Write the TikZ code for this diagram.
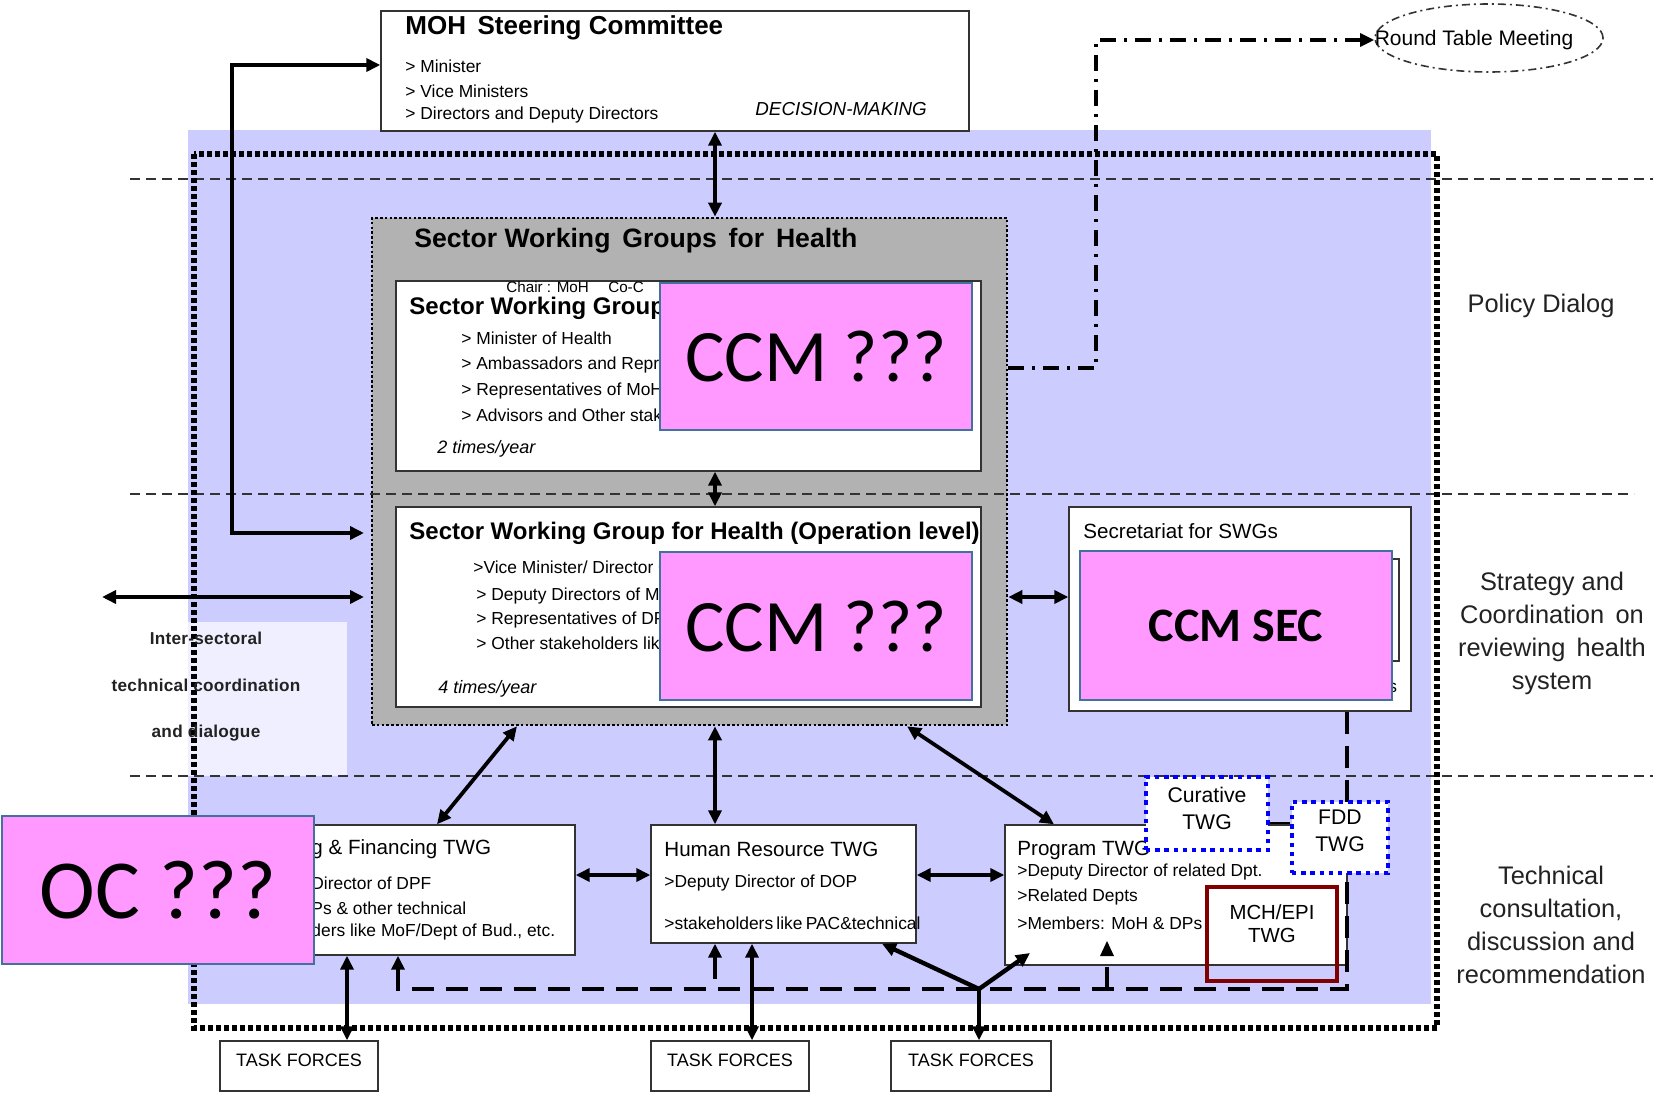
\documentclass[tikz,border=0pt]{standalone}
\usepackage{fontspec}
\setmainfont{Liberation Sans}
\newfontfamily\calf{Carlito}
\newfontfamily\spf[LetterSpace=1.5]{Liberation Sans}
\usetikzlibrary{arrows.meta,shapes.geometric}
\definecolor{lav}{HTML}{CCCCFF}
\definecolor{swggray}{HTML}{B2B2B2}
\definecolor{pinkf}{HTML}{FF99FF}
\definecolor{pinkb}{HTML}{41719C}
\definecolor{mchred}{HTML}{800000}
\definecolor{linegray}{HTML}{333333}
\definecolor{labgray}{HTML}{222222}
\begin{document}
\begin{tikzpicture}[x=0.5pt,y=-0.5pt,
  tri/.tip={Triangle[length=7pt,width=6.5pt]},
  box/.style={draw=linegray,line width=0.7pt,fill=white,inner sep=0,rectangle},
  graybox/.style={draw=black,line width=1.3pt,dash pattern=on 1.3pt off 1.1pt,fill=swggray,inner sep=0},
  pinkbox/.style={draw=pinkb,line width=1pt,fill=pinkf,inner sep=0},
  bluedot/.style={draw=blue,line width=2.2pt,dash pattern=on 2.2pt off 2.4pt,fill=white,inner sep=0},
  hdash/.style={draw=linegray,line width=0.7pt,dash pattern=on 5pt off 3pt},
  bigdot/.style={draw=black,line width=2.6pt,dash pattern=on 2.4pt off 1.6pt},
  fbdash/.style={draw=black,line width=2.2pt,dash pattern=on 11pt off 6pt},
  conn/.style={draw=black,line width=1.9pt,arrows={tri-tri}},
  onearr/.style={draw=black,line width=2.2pt,arrows={-tri}},
  ttl/.style={inner sep=0,anchor=west,font=\bfseries\fontsize{13}{15}\selectfont},
  ttlb/.style={inner sep=0,anchor=west,font=\bfseries\fontsize{12}{14}\selectfont},
  itm/.style={inner sep=0,anchor=west,font=\fontsize{8.7}{10}\selectfont},
  itl/.style={inner sep=0,anchor=west,font=\itshape\fontsize{9}{10}\selectfont},
  mid/.style={inner sep=0,anchor=west,font=\fontsize{10.3}{12}\selectfont},
  lab/.style={inner sep=0,align=center,text=labgray,font=\fontsize{12.7}{16.5}\selectfont},
  big/.style={font=\calf\fontsize{37}{40}\selectfont}
]
\useasboundingbox (0,0) rectangle (1653,1096);
\fill[white] (0,0) rectangle (1653,1096);
% background band
\fill[lav] (188,130) rectangle (1431,1004);
\fill[white,opacity=0.7] (65,622) rectangle (347,776);
% Sector working groups container
\node[graybox,minimum width=317.5pt,minimum height=253.5pt] (swgs) at (689.5,471.5) {};
% level separators
\draw[hdash] (130,179) -- (1653,179);
\draw[hdash] (130,494) -- (1634,494);
\draw[hdash] (130,776) -- (1653,776);
% thick dotted frame
\draw[bigdot] (194,154) rectangle (1437,1028);

% boxes
\node[box,minimum width=294pt,minimum height=60pt] (moh) at (675,71) {};
\node[box,minimum width=292.5pt,minimum height=95pt] (swg) at (688.5,376) {};
\node[box,minimum width=292.5pt,minimum height=100pt] (op) at (688.5,607) {};
\node[box,minimum width=171pt,minimum height=102pt] (sec) at (1240,609) {};
\draw[linegray,line width=0.6pt] (1085,559) rectangle (1399,661);
\node[box,minimum width=157.5pt,minimum height=65pt] (plan) at (417.5,890) {};
\node[box,minimum width=132.5pt,minimum height=59pt] (hr) at (783.5,884) {};
\node[box,minimum width=171pt,minimum height=70pt] (prog) at (1176,895) {};
\node[box,minimum width=79pt,minimum height=25pt] (tf1) at (299,1066) {};
\node[box,minimum width=79pt,minimum height=25pt] (tf2) at (730,1066) {};
\node[box,minimum width=80pt,minimum height=25pt] (tf3) at (971,1066) {};

% texts
\node[ttl] at (405,28) {MOH\, Steering Committee};
\node[itm] at (405,66) {> Minister};
\node[itm] at (405,91) {> Vice Ministers};
\node[itm] at (405,115) {> Directors and Deputy Directors};
\node[itl,font=\itshape\fontsize{9.4}{11}\selectfont] at (755,109) {DECISION-MAKING};

\node[ttl,font=\bfseries\fontsize{13.3}{15}\selectfont] at (414,241) {Sector Working\, Groups\, for\, Health};
\node[itm,font=\fontsize{7.6}{9}\selectfont] at (506,287) {Chair : MoH\quad\ Co-C};
\node[ttlb] at (409,308) {Sector Working Group};
\node[itm] at (461,338) {> Minister of Health};
\node[itm] at (461,365) {> Ambassadors and Represe};
\node[itm] at (461,391) {> Representatives of MoH D};
\node[itm] at (461,415) {> Advisors and Other stake};
\node[itl] at (437,449) {2 times/year};

\node[ttlb] at (409,533) {Sector Working Group for Health (Operation level)};
\node[itm] at (473,567) {>Vice Minister/ Director G};
\node[itm] at (476,596) {> Deputy Directors of MoH};
\node[itm] at (476,620) {> Representatives of DPs};
\node[itm] at (476,643) {> Other stakeholders like};
\node[itl] at (438,689) {4 times/year};

\node[mid] at (1083,531) {Secretariat for SWGs};
\node[itm] at (1388,688) {s};

\node[mid] at (311,849) {g \& Financing TWG};
\node[itm] at (311,883) {Director of DPF};
\node[itm] at (311,908) {Ps \& other technical};
\node[itm] at (311,932) {ders like MoF/Dept of Bud., etc.};

\node[mid] at (664,849) {Human Resource TWG};
\node[itm] at (664,883) {>Deputy Director of DOP};
\node[itm] at (664,923) {\makebox[119pt][s]{>stakeholders like PAC\&technical}};

\node[mid] at (1017,850) {Program TWG};
\node[itm] at (1017,872) {>Deputy Director of related Dpt.};
\node[itm] at (1017,897) {>Related Depts};
\node[itm] at (1017,923) {>Members: MoH \& DPs};

\foreach \n in {tf1,tf2,tf3}
  \node[inner sep=0,font=\fontsize{9}{10}\selectfont] at ([yshift=3pt]\n.center) {TASK FORCES};

\node[inner sep=0,align=center,text=labgray,font=\bfseries\spf\fontsize{8.6}{23.25}\selectfont] at (206,687)
  {Inter-sectoral\\technical coordination\\and dialogue};

\node[lab] at (1541,306) {Policy Dialog};
\node[lab] at (1552,633) {Strategy and\\Coordination\, on\\reviewing\, health\\system};
\node[lab] at (1551,925) {Technical\\consultation,\\discussion and\\recommendation};

% feedback dashed loop
\draw[fbdash,arrows={tri-}] (plan.south -| 398,0) -- (398,989) -- (1347,989) -- (sec.south -| 1347,0);
\draw[fbdash,arrows={tri-}] (hr.south -| 715,0) -- (715,989);
\draw[fbdash] (1107,989) -- (prog.south -| 1107,0);
\fill (1100,956) -- (1114,956) -- (1107,941) -- cycle;

% small TWGs
\node[bluedot,minimum width=61pt,minimum height=36.5pt] (cur) at (1207,813.5) {};
\node[bluedot,minimum width=48pt,minimum height=35.5pt] (fdd) at (1340,837.5) {};
\draw[black,line width=0.7pt] (cur.east |- 0,823) -- (fdd.west |- 0,823);
\node[inner sep=0,align=center,font=\fontsize{10.6}{13.5}\selectfont] at (1207,808) {Curative\\TWG};
\node[inner sep=0,align=center,font=\fontsize{10.6}{13.5}\selectfont] at (1340,831) {FDD\\TWG};
\node[draw=mchred,line width=2pt,inner sep=0,minimum width=65pt,minimum height=47pt] (mch) at (1272,934) {};
\node[inner sep=0,align=center,font=\fontsize{10.2}{11.5}\selectfont] at (1272,923.5) {MCH/EPI\\TWG};

% pink overlays
\node[pinkbox,big,minimum width=156pt,minimum height=73.5pt] (ccm1) at (816,356.5) {CCM ???};
\node[pinkbox,big,minimum width=156pt,minimum height=74pt] (ccm2) at (816,626) {CCM ???};
\node[pinkbox,minimum width=156pt,minimum height=74.5pt,font=\calf\bfseries\fontsize{24}{28}\selectfont] (ccmsec) at (1236,625.5) {CCM SEC};
\node[pinkbox,minimum width=156pt,minimum height=74pt,font=\calf\fontsize{42}{44}\selectfont] (oc) at (158,890) {OC ???};

% solid connectors
\coordinate (loopend) at (364,533);
\draw[conn] (loopend) -- (232,533) -- (232,65) -- (moh.west |- 0,65);
\draw[conn] (moh.south -| 715,0) -- (swgs.north -| 715,0);
\draw[conn] (swg.south -| 715,0) -- (op.north -| 715,0);
\coordinate (leftfree) at (102,597);
\coordinate (leftin) at (364,597);
\draw[conn] (leftfree) -- (leftin);
\draw[conn] (swgs.east |- 0,597) -- (sec.west |- 0,597);
\draw[conn] (swgs.south -| 517,0) -- (plan.north -| 437,0);
\draw[conn] (swgs.south -| 715,0) -- (hr.north -| 715,0);
\draw[conn] (swgs.south -| 907,0) -- (prog.north -| 1054,0);
\draw[conn] (plan.east |- 0,875) -- (hr.west |- 0,875);
\draw[conn] (hr.east |- 0,875) -- (prog.west |- 0,875);
\draw[conn] (plan.south -| 347,0) -- (tf1.north -| 347,0);
\draw[conn] (hr.south -| 752,0) -- (tf2.north -| 752,0);
\coordinate (yj) at (979,989);
\coordinate (progin) at (1030,953);
\draw[onearr] (yj) -- (tf3.north -| 979,0);
\draw[onearr] (yj) -- (hr.south -| 882,0);
\draw[onearr] (yj) -- (progin);

% round table meeting
\node[draw=linegray,line width=0.8pt,dash pattern=on 4pt off 2pt on 1pt off 2pt,ellipse,inner sep=0,minimum width=114pt,minimum height=34pt] (rtm) at (1489,38) {};
\node[inner sep=0,font=\fontsize{10.5}{12}\selectfont] at (1474,40) {Round Table Meeting};
\draw[black,line width=1.6pt,dash pattern=on 8pt off 4pt on 1.5pt off 4pt,arrows={-tri}] (swgs.east |- 0,368) -- (1096,368) -- (1096,40) -- (rtm.west |- 0,40);
\end{tikzpicture}
\end{document}
